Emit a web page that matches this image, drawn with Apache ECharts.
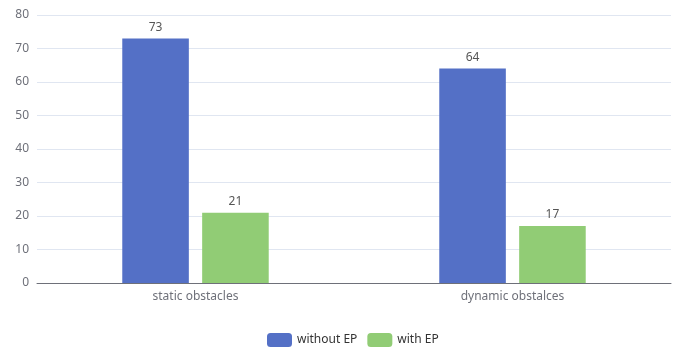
<!DOCTYPE html>
<html><head><meta charset="utf-8">
<script src="https://cdn.jsdelivr.net/npm/echarts@6/dist/echarts.min.js"></script>
<style>html,body{margin:0;padding:0;background:#fff}#c{width:683px;height:347px}</style>
</head><body><div id="c"></div>
<script>
var categories = ['static obstacles', 'dynamic obstalces'];
var seriesNames = ['without EP', 'with EP'];
var withoutEP = [73, 64];
var withEP = [21, 17];
var yTicks = {min: 0, max: 80, interval: 10};

var chart = echarts.init(document.getElementById('c'));
chart.setOption({
  textStyle: {fontFamily: '"Noto Sans", sans-serif'},
  color: ['#5470c6', '#91cc75'],
  legend: {top: 328, left: 262, itemWidth: 25, itemHeight: 14, itemGap: 10,
    textStyle: {color: '#333', fontSize: 12}},
  grid: {left: 37, right: 12, top: 15, bottom: 64},
  xAxis: {type: 'category', data: categories,
    axisLabel: {color: '#6E7079', fontSize: 12},
    axisLine: {lineStyle: {color: '#6E7079'}}},
  yAxis: {type: 'value', min: yTicks.min, max: yTicks.max, interval: yTicks.interval,
    axisLabel: {color: '#6E7079', fontSize: 12},
    splitLine: {lineStyle: {color: '#E0E6F1'}}},
  series: [
    {name: seriesNames[0], type: 'bar', data: withoutEP, barWidth: '21%', barGap: '20%',
      label: {show: true, position: 'top', color: '#555', fontSize: 12}},
    {name: seriesNames[1], type: 'bar', data: withEP, barWidth: '21%', barGap: '20%',
      label: {show: true, position: 'top', color: '#555', fontSize: 12}}
  ]
});
</script></body></html>
